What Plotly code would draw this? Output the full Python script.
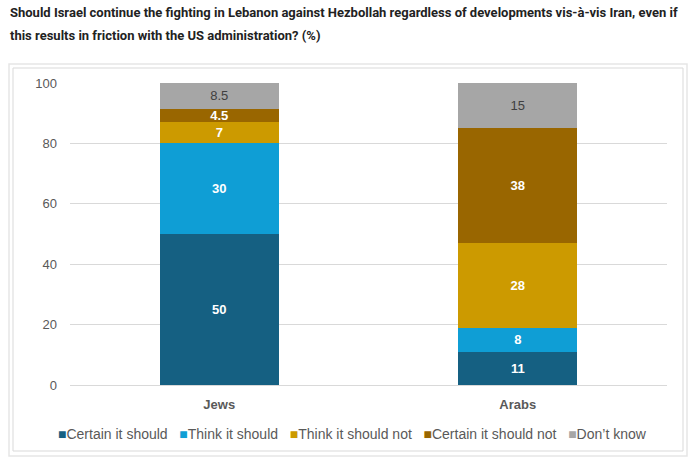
import plotly.graph_objects as go

categories = ["Jews", "Arabs"]
series_names = ["Certain it should", "Think it should", "Think it should not",
                "Certain it should not", "Don’t know"]
certain_should = [50, 11]
think_should = [30, 8]
think_should_not = [7, 28]
certain_should_not = [4.5, 38]
dont_know = [8.5, 15]
y_ticks = [0, 20, 40, 60, 80, 100]

series_values = [certain_should, think_should, think_should_not, certain_should_not, dont_know]
colors = ["#156082", "#0F9ED5", "#CC9A00", "#996600", "#A6A6A6"]
text_colors = ["white", "white", "white", "white", "#404040"]
text_weights = ["bold", "bold", "bold", "bold", "normal"]

W, H = 690, 463
L, R, T, B = 70, 23, 83, 78
pw, ph = W - L - R, H - T - B

def px_x(p):
    return (p - L) / pw

def px_y(p):
    return (H - B - p) / ph

fig = go.Figure()
for name, vals, c, tc, tw in zip(series_names, series_values, colors, text_colors, text_weights):
    fig.add_trace(go.Bar(
        x=categories, y=vals, name=name,
        marker=dict(color=c, line=dict(width=0)),
        text=[("%g" % v) for v in vals],
        textposition="inside", insidetextanchor="middle",
        constraintext="none", textangle=0,
        textfont=dict(family="Liberation Sans, Arial, sans-serif", size=13, color=tc, weight=tw),
        hoverinfo="skip", showlegend=False,
    ))

fig.update_layout(
    width=W, height=H, barmode="stack", bargap=0.6,
    margin=dict(l=L, r=R, t=T, b=B, autoexpand=False),
    paper_bgcolor="white", plot_bgcolor="white",
    showlegend=False,
    xaxis=dict(showgrid=False, showline=False, ticks="", ticklabelstandoff=10,
               tickfont=dict(family="Liberation Sans, Arial, sans-serif", size=13, color="#595959", weight="bold")),
    yaxis=dict(range=[0, 100], tickvals=y_ticks, showgrid=True, gridcolor="#D9D9D9", gridwidth=1,
               zeroline=True, zerolinecolor="#D9D9D9", zerolinewidth=1, showline=False, ticks="",
               ticklabelstandoff=12,
               tickfont=dict(family="Liberation Sans, Arial, sans-serif", size=13, color="#595959")),
    font=dict(family="Liberation Sans, Arial, sans-serif"),
)

# outer frame (double light border)
fig.add_shape(type="rect", xref="paper", yref="paper",
              x0=px_x(9), x1=px_x(687), y0=px_y(456), y1=px_y(64),
              line=dict(color="#E6E6E6", width=1.5), layer="below")
fig.add_shape(type="rect", xref="paper", yref="paper",
              x0=px_x(13), x1=px_x(683), y0=px_y(451), y1=px_y(68),
              line=dict(color="#D9D9D9", width=1), layer="below")

# legend built as a single text line
sep = "&nbsp;&nbsp;&nbsp;"
legend_text = sep.join(
    '<span style="color:%s">■</span>%s' % (c, n) for c, n in zip(colors, series_names)
)
fig.add_annotation(
    xref="paper", yref="paper", x=px_x(352), y=px_y(434), xanchor="center", yanchor="middle",
    showarrow=False, text=legend_text,
    font=dict(family="Liberation Sans, Arial, sans-serif", size=14, color="#595959"),
)

title_lines = [
    "Should Israel continue the fighting in Lebanon against Hezbollah regardless of developments vis-à-vis Iran, even if",
    "this results in friction with the US administration? (%)",
]
for line, ypx in zip(title_lines, [13, 35]):
    fig.add_annotation(
        xref="paper", yref="paper", x=px_x(8), y=px_y(ypx), xanchor="left", yanchor="middle",
        align="left", showarrow=False, text="<b>%s</b>" % line,
        font=dict(family="Roboto, sans-serif", size=13, color="#222222"),
    )

fig.write_html("out.html")
